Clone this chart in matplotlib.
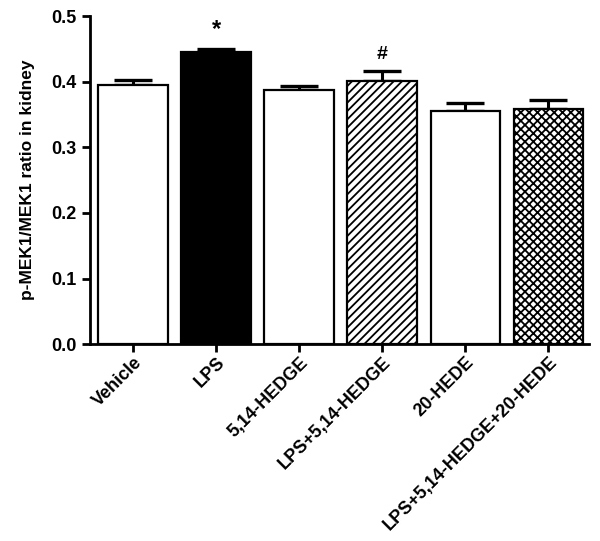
import matplotlib
matplotlib.use("Agg")
import matplotlib.pyplot as plt
import numpy as np

groups = ["Vehicle", "LPS", "5,14-HEDGE", "LPS+5,14-HEDGE", "20-HEDE",
          "LPS+5,14-HEDGE+20-HEDE"]
means = [0.395, 0.446, 0.387, 0.401, 0.355, 0.358]
sems = [0.007, 0.004, 0.007, 0.015, 0.012, 0.015]
facecols = ["white", "black", "white", "white", "white", "white"]
hatches = [None, None, None, "////", None, "xxxx"]
marks = {1: "*", 3: "#"}

plt.rcParams["font.family"] = ["Liberation Sans", "DejaVu Sans"]
plt.rcParams["hatch.linewidth"] = 1.3

fig = plt.figure(figsize=(6.0, 5.41), dpi=100)
ax = fig.add_axes([0.15, 0.364, 0.832, 0.606])
x = np.arange(len(groups))
bars = ax.bar(x, means, width=0.84, color=facecols, edgecolor="black",
              linewidth=1.6, zorder=2)
for b, h in zip(bars, hatches):
    if h:
        b.set_hatch(h)
ax.errorbar(x, means, yerr=[np.zeros(len(sems)), sems], fmt="none",
            ecolor="black", elinewidth=2.2, capsize=14, capthick=2.4, zorder=1)
for i, s in marks.items():
    ax.text(x[i], means[i] + sems[i] + 0.012, s, ha="center", va="bottom",
            fontsize=17 if s == "*" else 14, fontweight="bold")

ax.set_xlim(-0.52, 5.49)
ax.set_ylim(0, 0.5)
ax.set_yticks([0.0, 0.1, 0.2, 0.3, 0.4, 0.5])
ax.set_yticklabels([f"{v:.1f}" for v in [0.0, 0.1, 0.2, 0.3, 0.4, 0.5]],
                   fontsize=13, fontweight="bold")
ax.set_xticks(x)
ax.set_xticklabels(groups, rotation=45, ha="right", rotation_mode="anchor",
                   fontsize=13, fontweight="bold")
ax.set_ylabel("p-MEK1/MEK1 ratio in kidney", fontsize=12.5, fontweight="bold",
              labelpad=12)
for sp in ["top", "right"]:
    ax.spines[sp].set_visible(False)
for sp in ["left", "bottom"]:
    ax.spines[sp].set_linewidth(2)
ax.tick_params(direction="out", width=2, length=6)
ax.tick_params(axis="x", pad=1)
fig.savefig("out.png", dpi=100)
